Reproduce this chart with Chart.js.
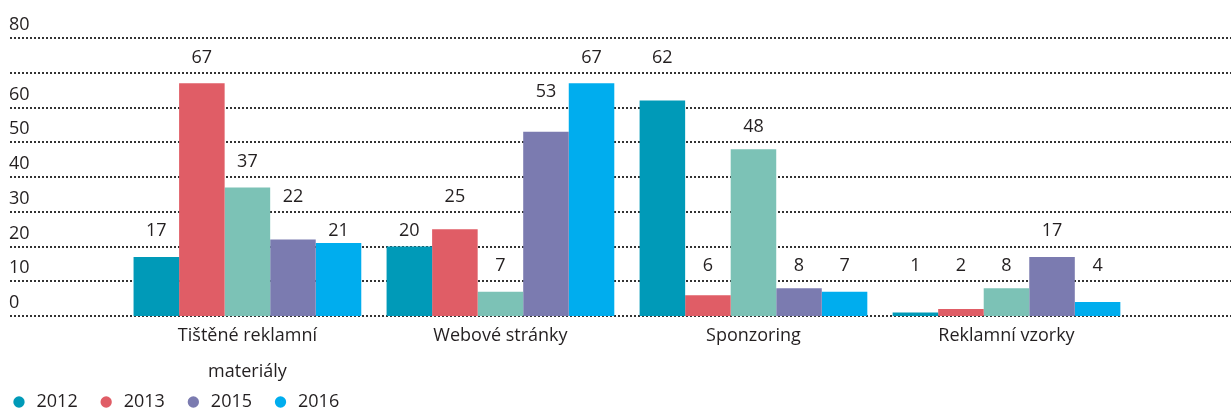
<!DOCTYPE html>
<html>
<head>
<meta charset="utf-8">
<script src="https://cdn.jsdelivr.net/npm/chart.js@4"></script>
<style>
    html, body { margin: 0; padding: 0; background: #fff; }
    #chartContainer { width: 1231px; height: 412px; }
</style>
</head>
<body>
<div id="chartContainer"><canvas id="myChart"></canvas></div>
<script>
//
// Data
//

var categories = [
    ['Tištěné reklamní', 'materiály'],
    'Webové stránky',
    'Sponzoring',
    'Reklamní vzorky'
];

var years = ['2012', '2013', '2014', '2015', '2016'];

var values2012 = [17, 20, 62, 1];
var values2013 = [67, 25, 6, 2];
var values2014 = [37, 7, 48, 8];
var values2015 = [22, 53, 8, 17];
var values2016 = [21, 67, 7, 4];

// 70 has no label in the original
var yTickValues = [0, 10, 20, 30, 40, 50, 60, 70, 80];
var yTickLabels = ['0', '10', '20', '30', '40', '50', '60', '', '80'];

// years shown in the legend (2014 is left out)
var legendYears = ['2012', '2013', '2015', '2016'];

var colors = ['#009ab8', '#e05d66', '#7cc2b6', '#7b7bb0', '#00adee'];

var fontFamily = '"Open Sans", "Noto Sans", sans-serif';
var fontSize = 18;
var textColor = '#231f20';


//
// Plugins
//

/**
 * Dotted grid lines over the full width, with the labels sitting above them
 */
var dottedGrid = {
    id: 'dottedGrid',
    // let the two-line category label run below the axis box
    afterLayout: function (chart) {
        chart.scales.x.bottom = chart.height;
    },
    beforeDatasetsDraw: function (chart) {
        var ctx = chart.ctx;
        var yScale = chart.scales.y;
        ctx.save();
        ctx.strokeStyle = '#333';
        ctx.lineWidth = 2;
        ctx.setLineDash([2, 2]);
        ctx.font = fontSize + 'px ' + fontFamily;
        ctx.fillStyle = textColor;
        ctx.textAlign = 'left';
        ctx.textBaseline = 'bottom';
        yTickValues.forEach(function (value, index) {
            var y = Math.round(yScale.getPixelForValue(value));
            ctx.beginPath();
            ctx.moveTo(10, y);
            ctx.lineTo(chart.width, y);
            ctx.stroke();
            ctx.fillText(yTickLabels[index], 9, y - 4);
        });
        ctx.restore();
    }
};

/**
 * Value labels, centred in the grid band above each bar
 */
var barValues = {
    id: 'barValues',
    afterDatasetsDraw: function (chart) {
        var ctx = chart.ctx;
        var yScale = chart.scales.y;
        ctx.save();
        ctx.font = fontSize + 'px ' + fontFamily;
        ctx.fillStyle = textColor;
        ctx.textAlign = 'center';
        ctx.textBaseline = 'middle';
        chart.data.datasets.forEach(function (dataset, i) {
            chart.getDatasetMeta(i).data.forEach(function (bar, index) {
                var value = dataset.data[index];
                var band = Math.max(10, Math.floor((value + 8.5) / 10) * 10);
                ctx.fillText(value, bar.x, yScale.getPixelForValue(band + 5) + 2);
            });
        });
        ctx.restore();
    }
};


//
// Chart
//

var seriesValues = [values2012, values2013, values2014, values2015, values2016];

var datasets = years.map(function (year, index) {
    return {
        label: year,
        data: seriesValues[index],
        backgroundColor: colors[index],
        borderWidth: 0,
        barPercentage: 1,
        categoryPercentage: 0.9
    };
});

var ctx = document.querySelector('#myChart').getContext('2d');
var chart = new Chart(ctx, {
    type: 'bar',
    data: {
        labels: categories,
        datasets: datasets
    },
    options: {
        responsive: true,
        maintainAspectRatio: false,
        animation: false,
        layout: {
            padding: { top: 38, right: 98, bottom: -9, left: -9.5 }
        },
        plugins: {
            tooltip: { enabled: false },
            legend: {
                position: 'bottom',
                align: 'start',
                labels: {
                    usePointStyle: true,
                    pointStyle: 'circle',
                    boxWidth: 17,
                    boxHeight: 8,
                    padding: 20,
                    color: textColor,
                    font: { family: fontFamily, size: fontSize },
                    filter: function (item) {
                        return legendYears.indexOf(item.text) !== -1;
                    }
                }
            }
        },
        scales: {
            x: {
                grid: { display: false, drawTicks: false },
                border: { display: false },
                ticks: {
                    padding: 2,
                    color: textColor,
                    maxRotation: 0,
                    autoSkip: false,
                    font: { family: fontFamily, size: fontSize, lineHeight: 2 }
                },
                afterFit: function (scale) {
                    scale.height = 57;
                }
            },
            y: {
                min: 0,
                max: 80,
                grid: { display: false, drawTicks: false },
                border: { display: false },
                ticks: { display: false },
                afterFit: function (scale) {
                    scale.width = 130.4;
                }
            }
        }
    },
    plugins: [dottedGrid, barValues]
});
</script>
</body>
</html>
